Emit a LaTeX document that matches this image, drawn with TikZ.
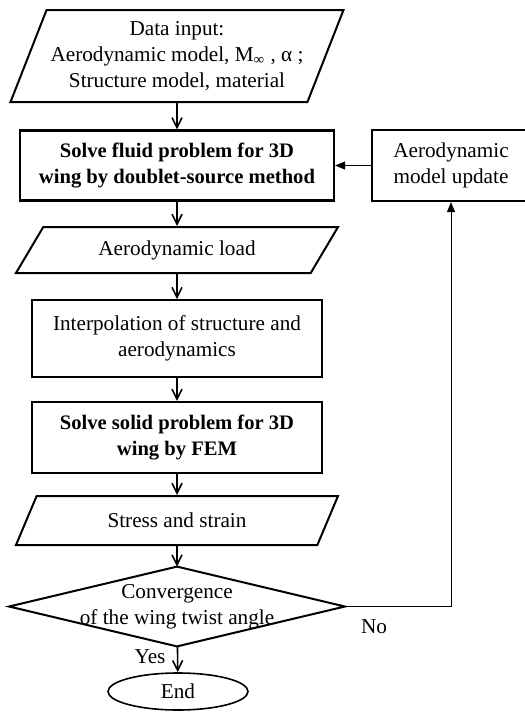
\documentclass[tikz,border=0pt]{standalone}
\usepackage{fontspec}
\setmainfont{Liberation Serif}
\usetikzlibrary{arrows.meta}
\usetikzlibrary{shapes,positioning}

\begin{document}
\begin{tikzpicture}[x=0.5pt, y=-0.5pt,
        font=\fontsize{10.6}{13}\selectfont,
        box/.style={draw, rectangle, line width=0.9pt, align=center, inner sep=2pt},
        iobox/.style={draw, trapezium, line width=1pt, trapezium stretches body, align=center, inner sep=2pt},
        flow/.style={-{Straight Barb[length=5pt,width=5pt]}, line width=0.8pt},
        back/.style={-{Triangle[length=5pt,width=4pt]}, line width=0.5pt}
    ]
        \useasboundingbox (0,0) rectangle (525,713);

        % Main column
        \node[iobox, trapezium left angle=65, trapezium right angle=115,
            minimum width=159pt, minimum height=46pt] (input) at (177,56)
            {Data input:\\Aerodynamic model, M\textsubscript{∞} , α ;\\Structure model, material};
        \node[box, font=\fontsize{10.3}{13}\selectfont\bfseries, line width=1.1pt,
            minimum width=157pt, minimum height=35pt] (fluid) at (177,165.5)
            {Solve fluid problem for 3D\\wing by doublet-source method};
        \node[iobox, trapezium left angle=45, trapezium right angle=135,
            minimum width=161pt, minimum height=23pt] (load) at (177,250) {Aerodynamic load};
        \node[box, minimum width=145pt, minimum height=38.5pt] (interp) at (177,338.5)
            {Interpolation of structure and\\aerodynamics};
        \node[box, font=\fontsize{10.3}{13}\selectfont\bfseries, line width=1.1pt,
            minimum width=145pt, minimum height=35.5pt] (solid) at (177,437.5)
            {Solve solid problem for 3D\\wing by FEM};
        \node[iobox, trapezium left angle=48, trapezium right angle=132,
            minimum width=161pt, minimum height=24.5pt] (stress) at (177,520.5) {Stress and strain};

        % Decision
        \node[rectangle, inner sep=0pt, align=center,
            minimum width=167.5pt, minimum height=39.5pt] (conv) at (177,606.5)
            {Convergence\\of the wing twist angle};
        \draw[line width=1pt] (conv.north) -- (conv.east) -- (conv.south) -- (conv.west) -- cycle;
        \node[draw, ellipse, line width=0.8pt, inner sep=0pt,
            minimum width=70pt, minimum height=18.5pt] (stop) at (178,691.5) {End};

        % Feedback box
        \node[box, line width=1.1pt, minimum width=79pt, minimum height=35.5pt] (update) at (451,165.5)
            {Aerodynamic\\model update};

        % Connectors
        \foreach \a/\b in {input/fluid, fluid/load, load/interp, interp/solid, solid/stress, stress/conv, conv/stop} {
            \draw[flow] (\a) -- (\b);
        }
        \draw[back] (conv.east) -| (update.south);
        \draw[back] (update) -- (fluid);

        \node (no) at (374,627) {No};
        \node (yes) at (150,657) {Yes};
    \end{tikzpicture}
\end{document}
